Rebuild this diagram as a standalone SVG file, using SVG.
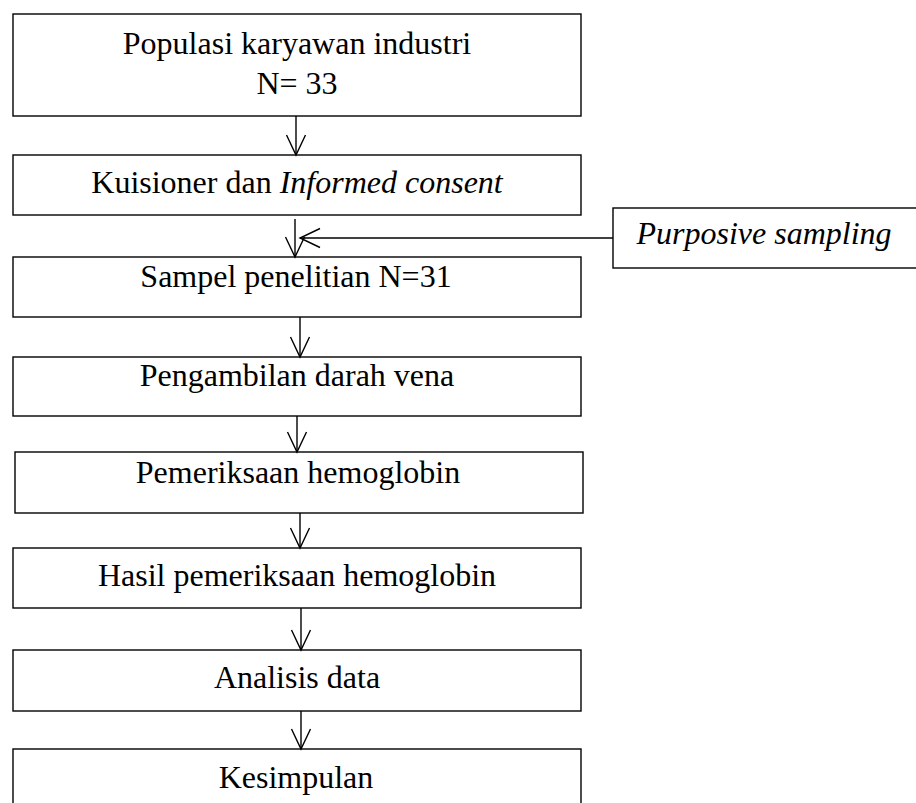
<svg xmlns="http://www.w3.org/2000/svg" width="916" height="803" viewBox="0 0 916 803">
<style>
.box{fill:#fff;stroke:#000;stroke-width:1.4}
.t{font-family:"Liberation Serif","Times New Roman",serif;font-size:32px;fill:#000;text-anchor:middle}
.i{font-style:italic}
.c{fill:none;stroke:#000;stroke-width:1.4}
</style>
<defs>
<marker id="ah" markerUnits="userSpaceOnUse" markerWidth="24" markerHeight="24" refX="0" refY="0" orient="auto" overflow="visible">
<path d="M-20,-9.5 L0,0 L-20,9.5" fill="none" stroke="#000" stroke-width="1.4"/>
</marker>
</defs>
<rect width="916" height="803" fill="#fff"/>
<g id="n1"><rect class="box" x="13" y="14" width="568" height="102"/><text class="t" x="297" y="54">Populasi karyawan industri</text><text class="t" x="297" y="94">N= 33</text></g>
<g id="n2"><rect class="box" x="13" y="155" width="568" height="60"/><text class="t" x="297" y="193">Kuisioner dan <tspan class="i">Informed consent</tspan></text></g>
<g id="np"><rect class="box" x="613" y="208" width="304" height="60"/><text class="t i" x="764" y="244">Purposive sampling</text></g>
<g id="n3"><rect class="box" x="13" y="257" width="568" height="60"/><text class="t" x="296" y="287">Sampel penelitian N=31</text></g>
<g id="n4"><rect class="box" x="13" y="357" width="568" height="59"/><text class="t" x="297" y="386">Pengambilan darah vena</text></g>
<g id="n5"><rect class="box" x="15" y="452" width="568" height="61"/><text class="t" x="298" y="483">Pemeriksaan hemoglobin</text></g>
<g id="n6"><rect class="box" x="13" y="548" width="568" height="60"/><text class="t" x="297" y="586">Hasil pemeriksaan hemoglobin</text></g>
<g id="n7"><rect class="box" x="13" y="650" width="568" height="61"/><text class="t" x="297" y="688">Analisis data</text></g>
<g id="n8"><rect class="box" x="13" y="749" width="568" height="70"/><text class="t" x="296" y="788">Kesimpulan</text></g>
<g id="connectors">
<path class="c" d="M296,116 V155" marker-end="url(#ah)"/>
<path class="c" d="M295,219 V257" marker-end="url(#ah)"/>
<path class="c" d="M613,238 H300" marker-end="url(#ah)"/>
<path class="c" d="M300,317 V357" marker-end="url(#ah)"/>
<path class="c" d="M297,416 V452" marker-end="url(#ah)"/>
<path class="c" d="M300,513 V548" marker-end="url(#ah)"/>
<path class="c" d="M301,608 V650" marker-end="url(#ah)"/>
<path class="c" d="M301,711 V749" marker-end="url(#ah)"/>
</g>
</svg>
